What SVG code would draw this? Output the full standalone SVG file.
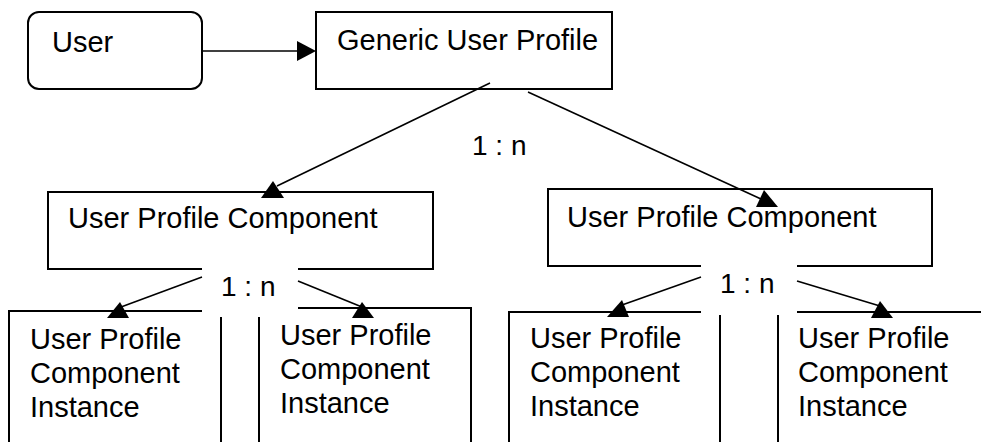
<svg xmlns="http://www.w3.org/2000/svg" width="981" height="442" viewBox="0 0 981 442">
  <style>
    .box { fill: #ffffff; stroke: #000000; stroke-width: 2; }
    .edge { fill: none; stroke: #000000; stroke-width: 1.6; }
    .head { fill: #000000; stroke: none; }
    .lbl { font-family: "Liberation Sans", Arial, sans-serif; font-size: 29px; fill: #000000; }
    .card { font-family: "Liberation Sans", Arial, sans-serif; font-size: 28px; fill: #000000; }
    .mask { fill: #ffffff; stroke: none; }
  </style>

  <!-- nodes -->
  <g id="user">
    <rect class="box" x="28" y="12" width="174" height="77" rx="11" ry="11"/>
    <text class="lbl" x="52" y="52">User</text>
  </g>
  <g id="generic-profile">
    <rect class="box" x="316" y="12" width="296" height="77"/>
    <text class="lbl" x="337" y="50">Generic User Profile</text>
  </g>
  <g id="component-left">
    <rect class="box" x="48" y="192" width="385" height="77"/>
    <text class="lbl" x="68" y="228">User Profile Component</text>
  </g>
  <g id="component-right">
    <rect class="box" x="548" y="189" width="384" height="77"/>
    <text class="lbl" x="567" y="227">User Profile Component</text>
  </g>
  <g id="instance-1">
    <rect class="box" x="9" y="311" width="212" height="150"/>
    <text class="lbl" x="30" y="349">User Profile</text>
    <text class="lbl" x="30" y="383">Component</text>
    <text class="lbl" x="30" y="417">Instance</text>
  </g>
  <g id="instance-2">
    <rect class="box" x="259" y="308" width="212" height="150"/>
    <text class="lbl" x="280" y="345">User Profile</text>
    <text class="lbl" x="280" y="379">Component</text>
    <text class="lbl" x="280" y="413">Instance</text>
  </g>
  <g id="instance-3">
    <rect class="box" x="509" y="312" width="211" height="150"/>
    <text class="lbl" x="530" y="348">User Profile</text>
    <text class="lbl" x="530" y="382">Component</text>
    <text class="lbl" x="530" y="416">Instance</text>
  </g>
  <g id="instance-4">
    <rect class="box" x="778" y="312" width="230" height="150"/>
    <text class="lbl" x="798" y="348">User Profile</text>
    <text class="lbl" x="798" y="382">Component</text>
    <text class="lbl" x="798" y="416">Instance</text>
  </g>

  <!-- cardinality label backgrounds cut the box edges -->
  <rect class="mask" x="202" y="266" width="96" height="51"/>
  <rect class="mask" x="701" y="262" width="96" height="53"/>

  <!-- connectors -->
  <g id="connectors">
    <line class="edge" x1="202" y1="51" x2="298" y2="51"/>
    <polygon class="head" points="297,41 316,51 297,61"/>

    <line class="edge" x1="490" y1="83" x2="277" y2="186"/>
    <polygon class="head" points="273,181 261,198 284,198"/>

    <line class="edge" x1="528" y1="92" x2="761" y2="199"/>
    <polygon class="head" points="764,190 756,207 778,207"/>

    <line class="edge" x1="202" y1="277" x2="121" y2="307"/>
    <polygon class="head" points="120,302 107,318 129,318"/>

    <line class="edge" x1="298" y1="281" x2="362" y2="307"/>
    <polygon class="head" points="362,302 352,318 374,318"/>

    <line class="edge" x1="701" y1="277" x2="622" y2="305"/>
    <polygon class="head" points="622,300 607,317 629,317"/>

    <line class="edge" x1="797" y1="281" x2="880" y2="306"/>
    <polygon class="head" points="880,301 871,318 893,318"/>
  </g>

  <!-- cardinality labels -->
  <g id="cardinalities">
    <text class="card" x="472" y="155">1 : n</text>
    <text class="card" x="221" y="296">1 : n</text>
    <text class="card" x="720" y="293">1 : n</text>
  </g>
</svg>
